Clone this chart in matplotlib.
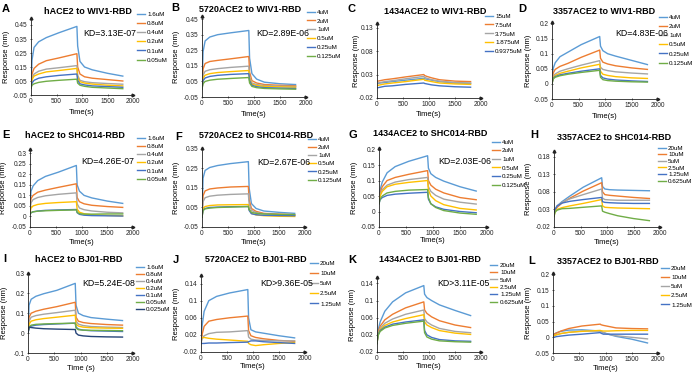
import numpy as np
import matplotlib
matplotlib.use("Agg")
import matplotlib.pyplot as plt

plt.rcParams['font.family'] = ['Liberation Sans', 'DejaVu Sans']

t = [0, 20, 60, 150, 300, 550, 900, 915, 960, 1050, 1200, 1500, 1800]

colors = ['#5B9BD5', '#ED7D31', '#A5A5A5', '#FFC000', '#4472C4', '#70AD47', '#264478']

# ---- A  hACE2 / WIV1
A_conc = ['1.6uM', '0.8uM', '0.4uM', '0.2uM', '0.1uM', '0.05uM']
A_resp = [
    [0.0, 0.2, 0.29, 0.33, 0.36, 0.395, 0.44, 0.3, 0.19, 0.15, 0.13, 0.105, 0.085],
    [0.0, 0.1, 0.14, 0.17, 0.195, 0.215, 0.245, 0.15, 0.1, 0.08, 0.07, 0.06, 0.05],
    [0.0, 0.07, 0.1, 0.12, 0.135, 0.145, 0.16, 0.09, 0.055, 0.045, 0.038, 0.032, 0.027],
    [0.0, 0.06, 0.085, 0.1, 0.115, 0.125, 0.14, 0.075, 0.045, 0.035, 0.028, 0.02, 0.015],
    [0.0, 0.035, 0.055, 0.07, 0.08, 0.09, 0.1, 0.055, 0.03, 0.022, 0.015, 0.01, 0.005],
    [0.0, 0.02, 0.03, 0.04, 0.048, 0.055, 0.063, 0.035, 0.02, 0.012, 0.005, 0.0, -0.005],
]
# ---- B  5720ACE2 / WIV1
B_conc = ['4uM', '2uM', '1uM', '0.5uM', '0.25uM', '0.125uM']
B_resp = [
    [0.0, 0.24, 0.31, 0.335, 0.35, 0.362, 0.377, 0.2, 0.1, 0.065, 0.045, 0.035, 0.03],
    [0.0, 0.13, 0.165, 0.178, 0.185, 0.195, 0.21, 0.11, 0.055, 0.04, 0.03, 0.025, 0.022],
    [0.0, 0.09, 0.115, 0.125, 0.132, 0.14, 0.148, 0.08, 0.04, 0.03, 0.024, 0.02, 0.018],
    [0.0, 0.07, 0.09, 0.1, 0.107, 0.113, 0.12, 0.065, 0.032, 0.024, 0.018, 0.015, 0.013],
    [0.0, 0.055, 0.072, 0.082, 0.089, 0.095, 0.1, 0.055, 0.025, 0.016, 0.01, 0.007, 0.005],
    [0.0, 0.035, 0.05, 0.058, 0.064, 0.069, 0.075, 0.04, 0.018, 0.01, 0.005, 0.002, 0.0],
]
# ---- C  1434ACE2 / WIV1
C_conc = ['15uM', '7.5uM', '3.75uM', '1.875uM', '0.9375uM']
C_resp = [
    [0.01, 0.011, 0.012, 0.013, 0.015, 0.018, 0.022, 0.021, 0.02, 0.018, 0.015, 0.012, 0.011],
    [0.016, 0.016, 0.017, 0.019, 0.021, 0.025, 0.03, 0.028, 0.026, 0.023, 0.019, 0.016, 0.015],
    [0.012, 0.012, 0.013, 0.015, 0.017, 0.021, 0.026, 0.024, 0.022, 0.019, 0.016, 0.013, 0.012],
    [0.007, 0.007, 0.008, 0.01, 0.012, 0.015, 0.02, 0.018, 0.017, 0.015, 0.012, 0.01, 0.009],
    [0.002, 0.002, 0.003, 0.005, 0.006, 0.009, 0.012, 0.011, 0.01, 0.008, 0.006, 0.004, 0.003],
]
# ---- D  3357ACE2 / WIV1
D_conc = ['4uM', '2uM', '1uM', '0.5uM', '0.25uM', '0.125uM']
D_resp = [
    [0.0, 0.05, 0.07, 0.09, 0.105, 0.13, 0.157, 0.125, 0.11, 0.1, 0.092, 0.078, 0.064],
    [0.0, 0.035, 0.048, 0.058, 0.068, 0.088, 0.112, 0.085, 0.072, 0.066, 0.06, 0.053, 0.048],
    [0.0, 0.025, 0.033, 0.042, 0.05, 0.062, 0.077, 0.055, 0.048, 0.044, 0.04, 0.036, 0.033],
    [0.0, 0.02, 0.028, 0.035, 0.042, 0.053, 0.065, 0.042, 0.032, 0.028, 0.024, 0.02, 0.018],
    [0.0, 0.018, 0.024, 0.03, 0.035, 0.042, 0.05, 0.028, 0.02, 0.016, 0.013, 0.01, 0.008],
    [0.0, 0.016, 0.022, 0.027, 0.032, 0.038, 0.045, 0.022, 0.014, 0.011, 0.009, 0.007, 0.006],
]
# ---- E  hACE2 / SHC014
E_conc = ['1.6uM', '0.8uM', '0.4uM', '0.2uM', '0.1uM', '0.05uM']
E_resp = [
    [0.06, 0.12, 0.145, 0.17, 0.19, 0.21, 0.242, 0.15, 0.12, 0.1, 0.088, 0.073, 0.062],
    [0.04, 0.085, 0.1, 0.115, 0.125, 0.138, 0.155, 0.09, 0.07, 0.06, 0.053, 0.047, 0.043],
    [0.03, 0.065, 0.08, 0.09, 0.098, 0.105, 0.112, 0.06, 0.04, 0.032, 0.026, 0.02, 0.017],
    [0.02, 0.04, 0.05, 0.057, 0.062, 0.066, 0.07, 0.035, 0.02, 0.013, 0.008, 0.005, 0.003],
    [0.01, 0.018, 0.022, 0.026, 0.029, 0.031, 0.033, 0.018, 0.01, 0.006, 0.004, 0.003, 0.002],
    [0.01, 0.018, 0.022, 0.025, 0.027, 0.029, 0.031, 0.02, 0.013, 0.011, 0.011, 0.012, 0.012],
]
# ---- F  5720ACE2 / SHC014
F_conc = ['4uM', '2uM', '1uM', '0.5uM', '0.25uM', '0.125uM']
F_resp = [
    [0.0, 0.2, 0.24, 0.255, 0.265, 0.275, 0.285, 0.15, 0.07, 0.045, 0.032, 0.025, 0.02],
    [0.0, 0.11, 0.135, 0.145, 0.15, 0.155, 0.158, 0.09, 0.045, 0.03, 0.02, 0.016, 0.013],
    [0.0, 0.08, 0.1, 0.108, 0.113, 0.117, 0.12, 0.07, 0.035, 0.024, 0.017, 0.013, 0.01],
    [0.0, 0.045, 0.055, 0.06, 0.063, 0.064, 0.065, 0.04, 0.02, 0.012, 0.008, 0.005, 0.004],
    [0.0, 0.035, 0.045, 0.05, 0.052, 0.054, 0.055, 0.035, 0.018, 0.013, 0.01, 0.009, 0.008],
    [0.0, 0.035, 0.043, 0.047, 0.05, 0.052, 0.055, 0.04, 0.025, 0.02, 0.017, 0.015, 0.014],
]
# ---- G  1434ACE2 / SHC014
G_conc = ['4uM', '2uM', '1uM', '0.5uM', '0.25uM', '0.125uM']
G_resp = [
    [0.04, 0.07, 0.095, 0.125, 0.145, 0.162, 0.18, 0.14, 0.122, 0.11, 0.098, 0.08, 0.066],
    [0.035, 0.06, 0.08, 0.1, 0.11, 0.12, 0.132, 0.1, 0.085, 0.072, 0.06, 0.045, 0.038],
    [0.03, 0.055, 0.07, 0.085, 0.095, 0.103, 0.11, 0.08, 0.065, 0.052, 0.04, 0.03, 0.024],
    [0.03, 0.05, 0.065, 0.08, 0.088, 0.094, 0.1, 0.07, 0.05, 0.035, 0.022, 0.01, 0.005],
    [0.025, 0.038, 0.045, 0.052, 0.056, 0.059, 0.062, 0.04, 0.025, 0.015, 0.007, 0.0, -0.004],
    [0.025, 0.04, 0.05, 0.06, 0.065, 0.069, 0.071, 0.045, 0.025, 0.013, 0.003, -0.005, -0.009],
]
# ---- H  3357ACE2 / SHC014
H_conc = ['20uM', '10uM', '5uM', '2.5uM', '1.25uM', '0.625uM']
H_resp = [
    [0.02, 0.03, 0.04, 0.052, 0.068, 0.093, 0.12, 0.095, 0.088, 0.086, 0.085, 0.084, 0.083],
    [0.02, 0.028, 0.036, 0.048, 0.062, 0.082, 0.106, 0.08, 0.072, 0.07, 0.068, 0.064, 0.061],
    [0.02, 0.03, 0.04, 0.05, 0.06, 0.072, 0.088, 0.062, 0.058, 0.057, 0.056, 0.056, 0.056],
    [0.01, 0.025, 0.03, 0.035, 0.04, 0.047, 0.058, 0.04, 0.036, 0.035, 0.034, 0.033, 0.032],
    [0.015, 0.03, 0.04, 0.048, 0.053, 0.058, 0.064, 0.052, 0.05, 0.049, 0.048, 0.047, 0.047],
    [0.01, 0.022, 0.028, 0.032, 0.033, 0.036, 0.04, 0.025, 0.022, 0.018, 0.012, 0.004, -0.002],
]
# ---- I  hACE2 / BJ01
I_conc = ['1.6uM', '0.8uM', '0.4uM', '0.2uM', '0.1uM', '0.05uM', '0.025uM']
I_resp = [
    [0.0, 0.14, 0.17, 0.185, 0.198, 0.215, 0.25, 0.14, 0.1, 0.088, 0.078, 0.07, 0.063],
    [0.0, 0.08, 0.1, 0.11, 0.12, 0.133, 0.155, 0.08, 0.06, 0.053, 0.048, 0.043, 0.04],
    [0.0, 0.06, 0.08, 0.088, 0.095, 0.103, 0.115, 0.06, 0.045, 0.038, 0.033, 0.03, 0.028],
    [0.0, 0.045, 0.06, 0.067, 0.073, 0.08, 0.09, 0.045, 0.035, 0.03, 0.027, 0.025, 0.024],
    [0.0, 0.025, 0.035, 0.04, 0.043, 0.046, 0.05, 0.03, 0.02, 0.015, 0.012, 0.01, 0.008],
    [0.0, 0.03, 0.04, 0.044, 0.046, 0.048, 0.05, 0.025, 0.017, 0.015, 0.014, 0.013, 0.012],
    [0.0, 0.03, 0.028, 0.025, 0.022, 0.02, 0.018, 0.0, -0.01, -0.014, -0.017, -0.019, -0.02],
]
# ---- J  5720ACE2 / BJ01
J_conc = ['20uM', '10uM', '5uM', '2.5uM', '1.25uM']
J_resp = [
    [0.0, 0.04, 0.075, 0.1, 0.11, 0.118, 0.126, 0.06, 0.032, 0.027, 0.024, 0.018, 0.013],
    [0.0, 0.02, 0.04, 0.052, 0.056, 0.06, 0.064, 0.03, 0.018, 0.014, 0.011, 0.007, 0.005],
    [0.0, 0.01, 0.018, 0.023, 0.026, 0.027, 0.03, 0.015, 0.01, 0.008, 0.007, 0.006, 0.006],
    [0.012, 0.013, 0.014, 0.012, 0.01, 0.008, 0.005, 0.0, -0.003, -0.005, -0.003, 0.0, 0.002],
    [0.0, 0.0, 0.0, 0.001, 0.001, 0.002, 0.003, 0.004, 0.006, 0.006, 0.004, 0.002, 0.0],
]
# ---- K  1434ACE2 / BJ01
K_conc = ['20uM', '10uM', '5uM', '2.5uM', '1.25uM', '0.625uM']
K_resp = [
    [0.0, 0.03, 0.05, 0.075, 0.097, 0.118, 0.135, 0.115, 0.107, 0.1, 0.09, 0.077, 0.065],
    [0.0, 0.025, 0.04, 0.055, 0.068, 0.083, 0.097, 0.078, 0.07, 0.062, 0.053, 0.043, 0.037],
    [0.0, 0.022, 0.035, 0.047, 0.057, 0.068, 0.078, 0.058, 0.05, 0.043, 0.035, 0.028, 0.025],
    [0.0, 0.02, 0.032, 0.042, 0.05, 0.058, 0.067, 0.05, 0.043, 0.037, 0.03, 0.024, 0.021],
    [0.0, 0.02, 0.03, 0.038, 0.045, 0.05, 0.055, 0.03, 0.02, 0.014, 0.009, 0.006, 0.005],
    [0.0, 0.018, 0.028, 0.036, 0.042, 0.047, 0.052, 0.025, 0.015, 0.01, 0.006, 0.004, 0.003],
]
# ---- L  3357ACE2 / BJ01
L_conc = ['20uM', '10uM', '5uM', '2.5uM', '1.25uM']
L_resp = [
    [0.008, 0.01, 0.014, 0.019, 0.023, 0.024, 0.02, 0.018, 0.015, 0.01, 0.003, -0.006, -0.018],
    [0.008, 0.01, 0.013, 0.02, 0.028, 0.036, 0.042, 0.04, 0.038, 0.035, 0.03, 0.028, 0.027],
    [0.003, 0.005, 0.008, 0.012, 0.016, 0.02, 0.02, 0.018, 0.015, 0.01, 0.005, 0.0, -0.005],
    [0.003, 0.005, 0.008, 0.012, 0.016, 0.019, 0.022, 0.021, 0.02, 0.02, 0.021, 0.022, 0.022],
    [0.0, 0.0, 0.002, 0.004, 0.007, 0.01, 0.015, 0.013, 0.01, 0.01, 0.01, 0.01, 0.01],
]

# letter, title, KD, conc, resp, (ymin, ymax tick, step), ylim top, xlabel
panels = [
    ('A', 'hACE2 to WIV1-RBD', 'KD=3.13E-07', A_conc, A_resp, (-0.05, 0.45, 0.1), 0.5, 'Time(s)'),
    ('B', '5720ACE2 to WIV1-RBD', 'KD=2.89E-06', B_conc, B_resp, (-0.05, 0.45, 0.1), 0.47, 'Time(s)'),
    ('C', '1434ACE2 to WIV1-RBD', None, C_conc, C_resp, (-0.02, 0.13, 0.05), 0.14, 'Time(s)'),
    ('D', '3357ACE2 to WIV1-RBD', 'KD=4.83E-06', D_conc, D_resp, (-0.05, 0.2, 0.05), 0.205, 'Time(s)'),
    ('E', 'hACE2 to SHC014-RBD', 'KD=4.26E-07', E_conc, E_resp, (-0.05, 0.3, 0.05), 0.32, 'Time(s)'),
    ('F', '5720ACE2 to SHC014-RBD', 'KD=2.67E-06', F_conc, F_resp, (-0.05, 0.35, 0.1), 0.355, 'Time(s)'),
    ('G', '1434ACE2 to SHC014-RBD', 'KD=2.03E-06', G_conc, G_resp, (-0.05, 0.2, 0.05), 0.205, 'Time(s)'),
    ('H', '3357ACE2 to SHC014-RBD', None, H_conc, H_resp, (-0.02, 0.18, 0.05), 0.196, 'Time(s)'),
    ('I', 'hACE2 to BJ01-RBD', 'KD=5.24E-08', I_conc, I_resp, (-0.1, 0.3, 0.1), 0.302, 'Time (s)'),
    ('J', '5720ACE2 to BJ01-RBD', 'KD>9.36E-05', J_conc, J_resp, (-0.02, 0.14, 0.04), 0.16, 'Time(s)'),
    ('K', '1434ACE2 to BJ01-RBD', 'KD>3.11E-05', K_conc, K_resp, (-0.02, 0.14, 0.04), 0.155, 'Time(s)'),
    ('L', '3357ACE2 to BJ01-RBD', None, L_conc, L_resp, (-0.05, 0.2, 0.05), 0.205, 'Time(s)'),
]

# layout in pixels: axes (left, right, bottom, top), title centre, letter, KD, ylabel x, xlabel y, legend (x, y first, dy)
geom = {
    'A': dict(ax=(31, 133, 95, 18), title=(88, 11), letter=(2, 9), kd=(83, 33), ylab=7, xlab=112, leg=(137, 15, 11)),
    'B': dict(ax=(202, 306, 97, 16), title=(250, 10), letter=(171, 8), kd=(256, 33), ylab=177, xlab=114, leg=(307, 13, 10.6)),
    'C': dict(ax=(377, 481, 98, 23), title=(435, 11), letter=(347, 9), kd=None, ylab=356, xlab=115, leg=(485, 17, 10.7)),
    'D': dict(ax=(552, 658, 99, 22), title=(604, 11), letter=(518, 9), kd=(615, 34), ylab=529, xlab=116, leg=(659, 18, 11)),
    'E': dict(ax=(30, 133, 227, 149), title=(75, 135), letter=(2, 135), kd=(81, 161), ylab=4, xlab=242, leg=(137, 139, 10)),
    'F': dict(ax=(202, 305, 227, 148), title=(256, 135), letter=(175, 137), kd=(257, 162), ylab=177, xlab=242, leg=(308, 140, 10)),
    'G': dict(ax=(379, 487, 227, 148), title=(430, 134), letter=(349, 135), kd=(438, 161), ylab=355, xlab=241, leg=(492, 143, 10.4)),
    'H': dict(ax=(554, 660, 227, 151), title=(614, 138), letter=(530, 135), kd=None, ylab=529, xlab=242, leg=(658, 149, 8.4)),
    'I': dict(ax=(28, 133, 353, 273), title=(79, 260), letter=(3, 259), kd=(82, 283), ylab=5, xlab=368, leg=(136, 268, 8.8)),
    'J': dict(ax=(201, 305, 352, 275), title=(256, 260), letter=(173, 260), kd=(260, 284), ylab=176, xlab=367, leg=(310, 264, 12)),
    'K': dict(ax=(377, 481, 352, 277), title=(430, 260), letter=(348, 260), kd=(437, 284), ylab=353, xlab=367, leg=(490, 266, 9.2)),
    'L': dict(ax=(553, 658, 353, 273), title=(608, 261), letter=(528, 261), kd=None, ylab=529, xlab=368, leg=(661, 269, 11)),
}

W, H = 696, 373
fig = plt.figure(figsize=(W / 100, H / 100), dpi=100)

def fx(x):
    return x / W

def fy(y):
    return 1 - y / H

leg_fs = 4.5
fpx = leg_fs * 100 / 72

for letter, title, kd, conc, resp, (ylo, yhi, ystep), ytop, xlab in panels:
    g = geom[letter]
    l, r, b, tp = g['ax']
    ax = fig.add_axes([fx(l), fy(b), fx(r - l), (b - tp) / H])
    for i, (lab, vals) in enumerate(zip(conc, resp)):
        ax.plot(t, vals, color=colors[i], lw=1.0, label=lab)
    ax.set_xlim(0, 2000)
    ax.set_ylim(ylo, ytop)
    ax.set_xticks([0, 500, 1000, 1500, 2000])
    yt = np.round(np.arange(ylo, yhi + ystep / 2, ystep), 3)
    ax.set_yticks(yt)
    ax.set_yticklabels([f'{v:g}' for v in yt])
    ax.tick_params(labelsize=4.7, length=2, width=0.5, pad=1.5, direction='inout', colors='#222222')
    for s in ['top', 'right']:
        ax.spines[s].set_visible(False)
    for s in ['left', 'bottom']:
        ax.spines[s].set_linewidth(0.6)
        ax.spines[s].set_color('#222222')
    ax.patch.set_alpha(0)
    # arrow heads at the axis ends
    ax.plot(1, 0, '>', color='#222222', ms=2, transform=ax.transAxes, clip_on=False)
    ax.plot(0, 1, '^', color='#222222', ms=2, transform=ax.transAxes, clip_on=False)

    fig.text(fx(g['title'][0]), fy(g['title'][1]), title, ha='center', va='center',
             fontsize=6.5, fontweight='bold')
    fig.text(fx(g['letter'][0]), fy(g['letter'][1]), letter, ha='left', va='center',
             fontsize=8, fontweight='bold')
    if kd:
        fig.text(fx(g['kd'][0]), fy(g['kd'][1]), kd, ha='left', va='center', fontsize=6.3)
    fig.text(fx(g['ylab']), fy((b + tp) / 2), 'Response (nm)', rotation=90,
             ha='center', va='center', fontsize=5.5)
    fig.text(fx((l + r) / 2), fy(g['xlab']), xlab, ha='center', va='center', fontsize=5.5)

    lx, ly, dy = g['leg']
    th = 1.15 * fpx
    ax.legend(loc='upper left', bbox_to_anchor=(fx(lx), fy(ly - th / 2)),
              bbox_transform=fig.transFigure, frameon=False, fontsize=leg_fs,
              handlelength=1.2, handletextpad=0.4, borderpad=0, borderaxespad=0,
              labelspacing=max((dy - th) / fpx, 0.05))

fig.savefig('out.png', dpi=100)
